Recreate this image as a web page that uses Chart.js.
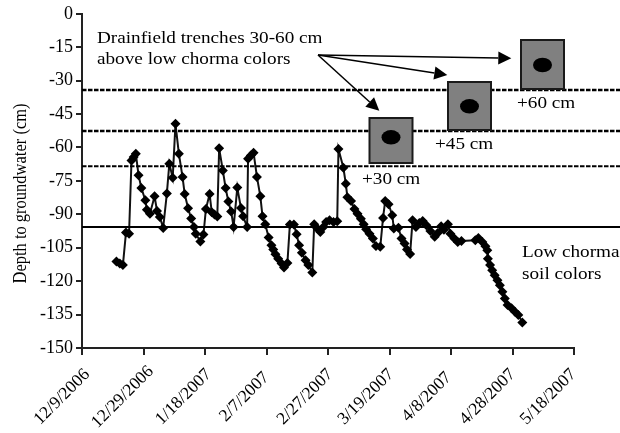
<!DOCTYPE html>
<html>
<head>
<meta charset="utf-8">
<style>
    html, body { margin: 0; padding: 0; background: #fff; }
    #wrap { width: 620px; height: 433px; position: relative; }
</style>
<script src="https://cdn.jsdelivr.net/npm/chart.js@4/dist/chart.umd.min.js"></script>
</head>
<body>
<div id="wrap"><canvas id="depth-chart"></canvas></div>
<script>
// days since 12/9/2006
const days = [11.2, 12.3, 13.3, 14.3, 15.3, 16.1, 16.8, 17.5, 18.4, 19.3, 20.6, 21.1, 22.1, 23.6, 24.4, 25.3, 26.4,
    27.6, 28.4, 29.5, 30.4, 31.5, 32.7, 33.4, 34.5, 35.5, 36.4, 37, 38.5, 39.5, 40.3, 41.5, 42.2, 43.1, 44, 44.6,
    45.8, 46.7, 47.6, 48.5, 49.3, 50.5, 51.7, 52.4, 53.7, 54, 54.9, 55.8, 56.9, 58, 58.7, 59.6, 60.7, 61.6, 62.2,
    62.9, 63.8, 64.9, 65.7, 66.8, 67.6, 68.9, 69.8, 70.6, 71.5, 72.7, 73.6, 74.9, 75.5, 76.5, 77.5, 78.5, 79.4,
    80.5, 81.8, 83, 83.4, 85, 85.8, 86.3, 87.5, 88.6, 89.6, 90.7, 91.6, 92.4, 93.5, 94.6, 95.6, 97, 97.9, 98.6,
    99.7, 100.9, 101.4, 102.9, 103.9, 104.9, 105.7, 106.7, 107.5, 108.6, 109.7, 110.8, 112, 113.3, 114.7, 115.7,
    116.8, 117.7, 119, 119.8, 121.1, 122.2, 123.4, 127.9, 128.9, 130.2, 131.2, 131.8, 132, 132.7, 133.4, 134.2,
    135.1, 135.9, 136.7, 137.5, 138.4, 139.7, 140.8, 141.9, 143.2];
const depths = [-111.2, -112.1, -112.8, -98.2, -98.7, -65.8, -64.3, -62.8, -72.5, -78.2, -83.7, -87.9, -89.7, -81.9,
    -88.5, -91.2, -96.1, -80.6, -67.3, -73.6, -49.4, -62.8, -73.3, -80.9, -87.3, -91.9, -95.7, -98.7, -102.2, -99.1,
    -87.6, -80.9, -89.1, -90.1, -91, -60.4, -70.3, -78.2, -84.3, -88.7, -95.7, -78, -87.2, -90.9, -95.7, -65.1,
    -63.6, -62.4, -73.3, -81.9, -90.9, -94.5, -100.4, -103.9, -105.8, -107.9, -109.9, -112.1, -113.9, -111.8, -94.6,
    -94.6, -99, -103.9, -107.3, -110.6, -112.8, -116.1, -94.5, -96.4, -97.9, -95.7, -93.4, -92.7, -93.4, -93.1,
    -60.7, -69.1, -76.3, -82.3, -84, -87.6, -89.7, -92, -94.5, -96.7, -98.7, -100.9, -104.2, -104.6, -91.6, -84,
    -85.5, -90.4, -96.4, -96, -100.9, -103.1, -105.8, -107.8, -92.7, -95.7, -93.9, -93, -94.9, -97.5, -100.1, -98.4,
    -95.4, -96.9, -94.5, -98.7, -100.9, -102.4, -102, -101.6, -100.6, -102.4, -104.3, -106.1, -109.9, -112.8,
    -115.1, -117.3, -119.6, -121.8, -124.8, -127.8, -130.7, -132.2, -133.7, -135.2, -138.5];

const dateLabels = ['12/9/2006', '12/29/2006', '1/18/2007', '2/7/2007', '2/27/2007',
    '3/19/2007', '4/8/2007', '4/28/2007', '5/18/2007'];

const lowChroma = -95.7;
const trenchLevels = [-34.2, -52.6, -68.4];
const lineEnd = 176; // lines run on past the axis to the edge of the picture

const FONT = '"Liberation Serif", serif';

function levelLine(level, width, dashed) {
    return {
        type: 'line',
        data: [{ x: 0, y: level }, { x: lineEnd, y: level }],
        borderColor: '#000',
        borderWidth: width,
        borderDash: dashed ? [4.5, 1.5] : [],
        pointRadius: 0,
        clip: false
    };
}

function arrow(ctx, x0, y0, x1, y1) {
    const a = Math.atan2(y1 - y0, x1 - x0);
    const len = 13, half = 6.5;
    const bx = x1 - len * Math.cos(a), by = y1 - len * Math.sin(a);
    ctx.beginPath();
    ctx.moveTo(x0, y0);
    ctx.lineTo(bx, by);
    ctx.lineWidth = 1.5;
    ctx.strokeStyle = '#000';
    ctx.stroke();
    ctx.beginPath();
    ctx.moveTo(x1, y1);
    ctx.lineTo(bx - half * Math.sin(a), by + half * Math.cos(a));
    ctx.lineTo(bx + half * Math.sin(a), by - half * Math.cos(a));
    ctx.closePath();
    ctx.fillStyle = '#000';
    ctx.fill();
}

function trenchBox(ctx, x, y, w, h, dotY) {
    ctx.fillStyle = '#808080';
    ctx.fillRect(x, y, w, h);
    ctx.strokeStyle = '#1a1a1a';
    ctx.lineWidth = 2;
    ctx.strokeRect(x, y, w, h);
    ctx.beginPath();
    ctx.ellipse(x + w / 2, dotY, 9.5, 7.3, 0, 0, Math.PI * 2);
    ctx.fillStyle = '#000';
    ctx.fill();
}

// the reference text is wider than the font, so stretch it sideways
function wideText(ctx, text, x, y) {
    ctx.save();
    ctx.translate(x, y);
    ctx.scale(1.2, 1);
    ctx.fillText(text, 0, 0);
    ctx.restore();
}

const notesPlugin = {
    id: 'notes',
    afterDraw(chart) {
        const ctx = chart.ctx;
        ctx.save();
        trenchBox(ctx, 521, 40, 43, 49, 65);
        trenchBox(ctx, 448, 82, 43, 48, 106.3);
        trenchBox(ctx, 369.5, 118, 43, 45, 137.3);

        arrow(ctx, 318, 55, 511.3, 58.3);
        arrow(ctx, 318, 55, 447.3, 75);
        arrow(ctx, 318, 55, 379.3, 110.7);

        ctx.fillStyle = '#000';
        ctx.textBaseline = 'alphabetic';
        ctx.textAlign = 'left';
        ctx.font = '16px ' + FONT;
        wideText(ctx, 'Drainfield trenches 30-60 cm', 97, 43);
        wideText(ctx, 'above low chorma colors', 97, 64);
        wideText(ctx, '+60 cm', 517, 108);
        wideText(ctx, '+45 cm', 435, 149);
        wideText(ctx, '+30 cm', 362, 184);
        wideText(ctx, 'Low chorma', 522, 257);
        wideText(ctx, 'soil colors', 522, 279);

        // y axis title, stretched across its height for the same reason
        ctx.save();
        ctx.translate(26, 193.5);
        ctx.rotate(-Math.PI / 2);
        ctx.scale(1, 1.18);
        ctx.textAlign = 'center';
        ctx.font = '16.5px ' + FONT;
        ctx.fillText('Depth to groundwater (cm)', 0, 0);
        ctx.restore();

        // date labels sit centred below and left of their ticks
        const xScale = chart.scales.x;
        ctx.font = '17.5px ' + FONT;
        ctx.textAlign = 'center';
        ctx.textBaseline = 'middle';
        dateLabels.forEach((label, i) => {
            ctx.save();
            ctx.translate(xScale.getPixelForValue(i * 20) - 20 - i * 0.7, 397);
            ctx.rotate(-Math.PI / 4);
            ctx.fillText(label, 0, 0);
            ctx.restore();
        });
        ctx.restore();
    }
};

new Chart(document.getElementById('depth-chart').getContext('2d'), {
    type: 'scatter',
    data: {
        datasets: [
            levelLine(trenchLevels[0], 2.6, true),
            levelLine(trenchLevels[1], 2.6, true),
            levelLine(trenchLevels[2], 2, true),
            levelLine(lowChroma, 2, false),
            {
                type: 'line',
                data: days.map((d, i) => ({ x: d, y: depths[i] })),
                borderColor: '#111',
                borderWidth: 2,
                tension: 0,
                pointStyle: 'rectRot',
                pointRadius: 5,
                pointBackgroundColor: '#000',
                pointBorderColor: '#000',
                pointBorderWidth: 0
            }
        ]
    },
    options: {
        responsive: true,
        maintainAspectRatio: false,
        animation: false,
        layout: { padding: { top: 12.5, right: 46, left: 0, bottom: 0 } },
        plugins: { legend: { display: false }, tooltip: { enabled: false } },
        scales: {
            x: {
                type: 'linear',
                min: 0,
                max: 160,
                afterFit: scale => { scale.height = 85; },
                afterBuildTicks: scale => {
                    scale.ticks = dateLabels.map((_, i) => ({ value: i * 20 }));
                },
                border: { color: '#222', width: 2 },
                grid: { drawOnChartArea: false, drawTicks: true, tickLength: 7, color: '#222', lineWidth: 2 },
                ticks: { display: false }
            },
            y: {
                min: -150,
                max: 0,
                afterFit: scale => { scale.width = 82; },
                border: { color: '#222', width: 2 },
                grid: { drawOnChartArea: false, drawTicks: true, tickLength: 6, color: '#222', lineWidth: 2 },
                ticks: {
                    stepSize: 15,
                    color: '#000',
                    font: { family: FONT, size: 18 },
                    padding: 3
                }
            }
        }
    },
    plugins: [notesPlugin]
});
</script>
</body>
</html>
